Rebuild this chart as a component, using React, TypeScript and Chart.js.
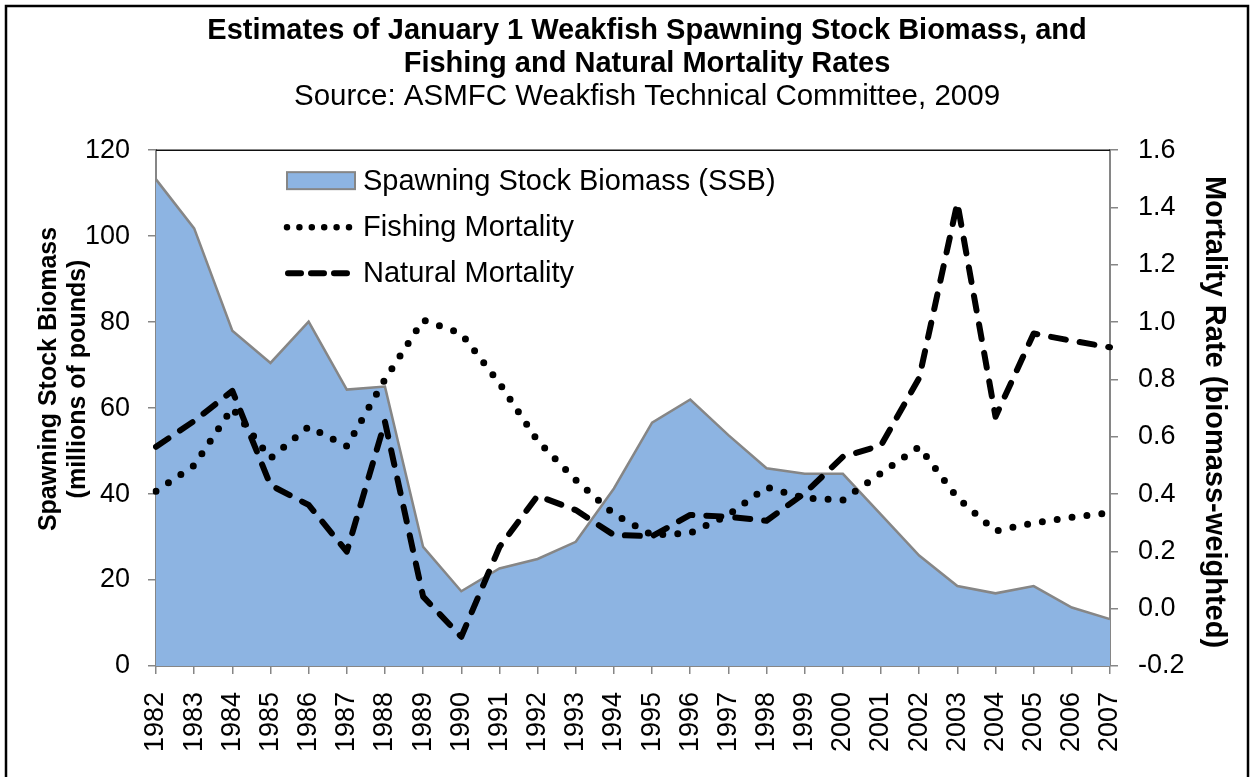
import { useEffect, useRef } from "react";
import { Chart, registerables } from "chart.js";

Chart.register(...registerables);

const FONT = "'Liberation Sans', Arial, Helvetica, sans-serif";

const years = [
  "1982", "1983", "1984", "1985", "1986", "1987", "1988", "1989", "1990",
  "1991", "1992", "1993", "1994", "1995", "1996", "1997", "1998", "1999",
  "2000", "2001", "2002", "2003", "2004", "2005", "2006", "2007",
];

// Spawning stock biomass, millions of pounds (left axis)
const ssb = [
  113.2, 101.8, 78.0, 70.5, 80.1, 64.3, 65.0, 27.7, 17.4, 22.7, 24.9, 28.9,
  41.3, 56.6, 62.0, 53.7, 46.0, 44.7, 44.7, 35.2, 25.7, 18.6, 16.9, 18.6,
  13.6, 10.9,
];

// Fishing mortality (right axis)
const fishingMortality = [
  0.41, 0.5, 0.7, 0.525, 0.635, 0.567, 0.8, 1.007, 0.96, 0.787, 0.586, 0.449,
  0.33, 0.257, 0.264, 0.327, 0.424, 0.386, 0.379, 0.473, 0.565, 0.387, 0.271,
  0.299, 0.319, 0.335,
];

// Natural mortality (right axis)
const naturalMortality = [
  0.565, 0.655, 0.76, 0.431, 0.362, 0.199, 0.652, 0.042, -0.098, 0.215, 0.394,
  0.344, 0.257, 0.253, 0.327, 0.321, 0.307, 0.403, 0.53, 0.57, 0.805, 1.416,
  0.67, 0.96, 0.935, 0.912,
];

const titleLines = [
  "Estimates of January 1 Weakfish Spawning Stock Biomass, and",
  "Fishing and Natural Mortality Rates",
];
const subtitleText = "Source: ASMFC Weakfish Technical Committee, 2009";
const leftAxisTitle = ["Spawning Stock Biomass", "(millions of pounds)"];
const rightAxisTitle = "Mortality Rate (biomass-weighted)";
const legendLabels = [
  "Spawning Stock Biomass (SSB)",
  "Fishing Mortality",
  "Natural Mortality",
];

const SSB_FILL = "#8DB4E2";
const AXIS_GRAY = "#868686";

const decorPlugin = {
  id: "decor",
  beforeDraw(chart: any) {
    const { ctx, width, height } = chart;
    ctx.save();
    ctx.fillStyle = "#ffffff";
    ctx.fillRect(0, 0, width, height);
    ctx.restore();
  },
  afterDraw(chart: any) {
    const { ctx, chartArea } = chart;
    const { left, right, top } = chartArea;
    ctx.save();
    // outer border
    ctx.strokeStyle = "#000";
    ctx.lineWidth = 2.5;
    ctx.strokeRect(6, 6, 1242, 800);
    // top line of plot area
    ctx.beginPath();
    ctx.lineWidth = 1.5;
    ctx.strokeStyle = "#111";
    ctx.moveTo(left, top);
    ctx.lineTo(right, top);
    ctx.stroke();

    // axis titles
    ctx.fillStyle = "#000";
    ctx.textAlign = "center";
    ctx.textBaseline = "middle";
    ctx.font = `bold 25px ${FONT}`;
    ctx.save();
    ctx.translate(49, 379);
    ctx.rotate(-Math.PI / 2);
    ctx.fillText(leftAxisTitle[0], 0, 0);
    ctx.fillText(leftAxisTitle[1], 0, 29);
    ctx.restore();

    ctx.font = `bold 29px ${FONT}`;
    ctx.save();
    ctx.translate(1214, 412);
    ctx.rotate(Math.PI / 2);
    ctx.fillText(rightAxisTitle, 0, 0);
    ctx.restore();

    // legend
    const lx = left + 131;
    const rows = [top + 31, top + 77, top + 123];
    // SSB swatch
    ctx.fillStyle = SSB_FILL;
    ctx.fillRect(lx, rows[0] - 9, 68, 17);
    ctx.strokeStyle = AXIS_GRAY;
    ctx.lineWidth = 2;
    ctx.strokeRect(lx, rows[0] - 9, 68, 17);
    // dotted
    ctx.strokeStyle = "#000";
    ctx.lineWidth = 6.5;
    ctx.lineCap = "round";
    ctx.setLineDash([0, 12.4]);
    ctx.beginPath();
    ctx.moveTo(lx, rows[1]);
    ctx.lineTo(lx + 62, rows[1]);
    ctx.stroke();
    // dashed
    ctx.lineWidth = 6;
    ctx.setLineDash([13, 10]);
    ctx.beginPath();
    ctx.moveTo(lx + 1, rows[2]);
    ctx.lineTo(lx + 60, rows[2]);
    ctx.stroke();
    ctx.setLineDash([]);
    // labels
    ctx.fillStyle = "#000";
    ctx.textAlign = "left";
    ctx.textBaseline = "middle";
    ctx.font = `29px ${FONT}`;
    legendLabels.forEach((t, i) => ctx.fillText(t, lx + 76, rows[i] + 1));
    ctx.restore();
  },
};

export default function App() {
  const canvasRef = useRef<HTMLCanvasElement | null>(null);

  useEffect(() => {
    document.body.style.margin = "0";
    const canvas = canvasRef.current;
    if (!canvas) return;
    Chart.defaults.font.family = FONT;
    Chart.defaults.color = "#000";

    const chart = new Chart(canvas, {
      type: "line",
      data: {
        labels: years,
        datasets: [
          {
            label: legendLabels[1],
            data: fishingMortality,
            yAxisID: "y1",
            borderColor: "#000",
            borderWidth: 7,
            borderDash: [0, 15],
            borderCapStyle: "round",
            borderJoinStyle: "round",
            pointRadius: 0,
            fill: false,
            tension: 0,
            order: 0,
          },
          {
            label: legendLabels[2],
            data: naturalMortality,
            yAxisID: "y1",
            borderColor: "#000",
            borderWidth: 6,
            borderDash: [15, 14],
            borderCapStyle: "round",
            borderJoinStyle: "round",
            pointRadius: 0,
            fill: false,
            tension: 0,
            order: 1,
          },
          {
            label: legendLabels[0],
            data: ssb,
            yAxisID: "y",
            borderColor: AXIS_GRAY,
            borderWidth: 2.5,
            backgroundColor: SSB_FILL,
            pointRadius: 0,
            fill: "origin",
            tension: 0,
            order: 2,
          },
        ],
      },
      options: {
        responsive: false,
        animation: false,
        devicePixelRatio: 1,
        layout: { padding: { left: 40, right: 0, top: 0, bottom: 0 } },
        plugins: {
          legend: { display: false },
          tooltip: { enabled: false },
          title: {
            display: true,
            text: titleLines,
            color: "#000",
            font: { size: 29, weight: "bold", lineHeight: 1.14, family: FONT },
            padding: { top: 14, bottom: 0 },
          },
          subtitle: {
            display: true,
            text: subtitleText,
            color: "#000",
            font: { size: 29.5, weight: "normal", lineHeight: 1.12, family: FONT },
            padding: { top: 0, bottom: 37 },
          },
        },
        scales: {
          x: {
            type: "category",
            offset: false,
            grid: {
              display: true,
              drawOnChartArea: false,
              drawTicks: true,
              tickLength: 8,
              color: AXIS_GRAY,
              lineWidth: 1.5,
            },
            border: { display: true, color: AXIS_GRAY, width: 2 },
            ticks: {
              autoSkip: false,
              maxRotation: 90,
              minRotation: 90,
              padding: 18,
              color: "#000",
              font: { size: 27, family: FONT },
            },
            afterFit: (s: any) => {
              s.height = 111;
            },
          },
          y: {
            type: "linear",
            position: "left",
            min: 0,
            max: 120,
            grid: {
              display: true,
              drawOnChartArea: false,
              drawTicks: true,
              tickLength: 8,
              color: AXIS_GRAY,
              lineWidth: 1.5,
            },
            border: { display: true, color: AXIS_GRAY, width: 2 },
            ticks: {
              stepSize: 20,
              padding: 18,
              color: "#000",
              font: { size: 27, family: FONT },
            },
            afterFit: (s: any) => {
              s.width = 116;
            },
          },
          y1: {
            type: "linear",
            position: "right",
            min: -0.2,
            max: 1.6,
            grid: {
              display: true,
              drawOnChartArea: false,
              drawTicks: true,
              tickLength: 8,
              color: AXIS_GRAY,
              lineWidth: 1.5,
            },
            border: { display: true, color: AXIS_GRAY, width: 2 },
            ticks: {
              stepSize: 0.2,
              padding: 20,
              color: "#000",
              font: { size: 27, family: FONT },
              callback: (v: any) => Number(v).toFixed(1),
            },
            afterFit: (s: any) => {
              s.width = 144;
            },
          },
        },
      },
      plugins: [decorPlugin],
    } as any);

    return () => chart.destroy();
  }, []);

  return (
    <div style={{ width: 1254, height: 777, position: "relative" }}>
      <canvas ref={canvasRef} width={1254} height={777} style={{ display: "block" }} />
    </div>
  );
}
